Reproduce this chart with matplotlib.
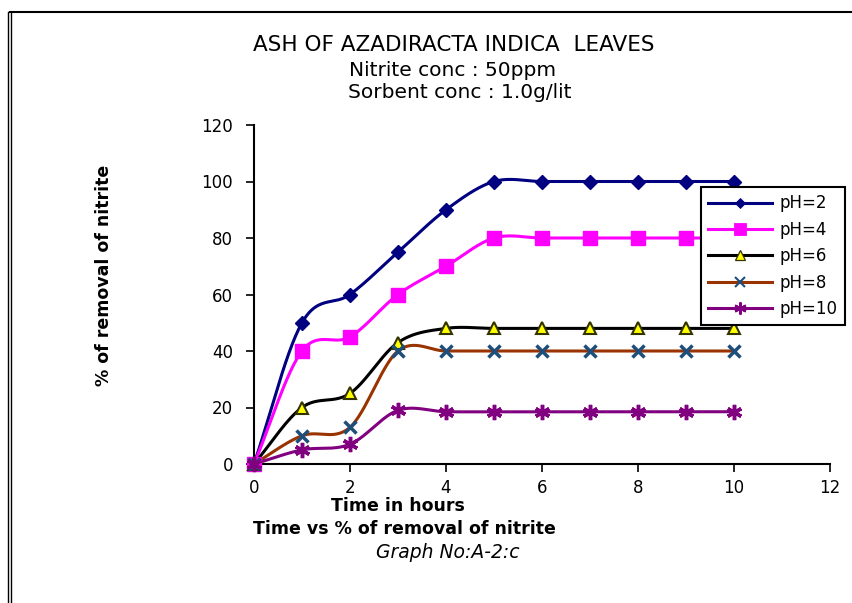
import matplotlib.pyplot as plt
import numpy as np
from matplotlib.lines import Line2D

plt.rcParams["font.family"] = ["DejaVu Sans"]

hours = [0, 1, 2, 3, 4, 5, 6, 7, 8, 9, 10]
ph2 = [0, 50, 60, 75, 90, 100, 100, 100, 100, 100, 100]
ph4 = [0, 40, 45, 60, 70, 80, 80, 80, 80, 80, 80]
ph6 = [0, 20, 25, 43, 48, 48, 48, 48, 48, 48, 48]
ph8 = [0, 10, 13, 40, 40, 40, 40, 40, 40, 40, 40]
ph10 = [0, 5, 7, 19, 18.5, 18.5, 18.5, 18.5, 18.5, 18.5, 18.5]
series_labels = ["pH=2", "pH=4", "pH=6", "pH=8", "pH=10"]


def smooth(x, y, n=30):
    # Catmull-Rom curve through the points, like Excel's smoothed line
    x = np.asarray(x, float)
    y = np.asarray(y, float)
    px = np.concatenate([[2 * x[0] - x[1]], x, [2 * x[-1] - x[-2]]])
    py = np.concatenate([[2 * y[0] - y[1]], y, [2 * y[-1] - y[-2]]])
    xs, ys = [], []
    t = np.linspace(0, 1, n)
    for i in range(1, len(px) - 2):
        for p, out in ((px, xs), (py, ys)):
            p0, p1, p2, p3 = p[i - 1], p[i], p[i + 1], p[i + 2]
            out.extend(0.5 * ((2 * p1) + (-p0 + p2) * t
                              + (2 * p0 - 5 * p1 + 4 * p2 - p3) * t ** 2
                              + (-p0 + 3 * p1 - 3 * p2 + p3) * t ** 3))
    return np.array(xs), np.array(ys)


styles = [
    dict(color="#000080", marker="D", ms=7, mfc="#000080", mec="#000080", mew=1),
    dict(color="#FF00FF", marker="s", ms=10, mfc="#FF00FF", mec="#FF00FF", mew=1),
    dict(color="#000000", marker="^", ms=9, mfc="#FFFF00", mec="#333300", mew=1.5),
    dict(color="#993300", marker="x", ms=9, mfc="#1F4E79", mec="#1F4E79", mew=2.5),
    dict(color="#800080", marker=(6, 2, 0), ms=11, mfc="#800080", mec="#800080", mew=2.5),
]

fig = plt.figure(figsize=(8.53, 6.03), dpi=100)
ax = fig.add_axes([254 / 853, 1 - 464 / 603, 576 / 853, 339 / 603])

for vals, st, lab in zip([ph2, ph4, ph6, ph8, ph10], styles, series_labels):
    sx, sy = smooth(hours, vals)
    ax.plot(sx, sy, color=st["color"], lw=2.2, zorder=2)
    ax.plot(hours, vals, ls="none", marker=st["marker"], ms=st["ms"],
            mfc=st["mfc"], mec=st["mec"], mew=st["mew"], zorder=3, clip_on=False)

ax.set_xlim(0, 12)
ax.set_ylim(0, 120)
ax.set_xticks(range(0, 13, 2))
ax.set_yticks(range(0, 121, 20))
for side in ("top", "right"):
    ax.spines[side].set_visible(False)
for side in ("left", "bottom"):
    ax.spines[side].set_linewidth(1.5)
ax.tick_params(direction="out", length=6, width=1.2, labelsize=12)
ax.tick_params(axis="y", pad=9)
ax.tick_params(axis="x", pad=5)

ax.set_xlabel("Time in hours", fontsize=12.5, fontweight="bold")
ax.xaxis.set_label_coords((398 - 254) / 576, (464 - 497) / 339)
ax.set_ylabel("% of removal of nitrite", fontsize=12.5, fontweight="bold")
ax.yaxis.set_label_coords((113 - 254) / 576, (464 - 275) / 339)

fig.text(454 / 853, 1 - 45 / 603, "ASH OF AZADIRACTA INDICA  LEAVES", ha="center", va="center", fontsize=15.5)
fig.text(453 / 853, 1 - 70 / 603, "Nitrite conc : 50ppm", ha="center", va="center", fontsize=14.5)
fig.text(460 / 853, 1 - 93 / 603, "Sorbent conc : 1.0g/lit", ha="center", va="center", fontsize=14.5)
fig.text(404 / 853, 1 - 529 / 603, "Time vs % of removal of nitrite", ha="center", va="center",
         fontsize=12.5, fontweight="bold")
fig.text(448 / 853, 1 - 552 / 603, "Graph No:A-2:c", ha="center", va="center",
         fontsize=13.5, style="italic")

handles = [Line2D([0], [0], color=st["color"], lw=2.2, marker=st["marker"], ms=st["ms"] * 0.8,
                  mfc=st["mfc"], mec=st["mec"], mew=st["mew"] * 0.6) for st in styles]
leg = ax.legend(handles, series_labels, loc="upper left",
                bbox_to_anchor=((701 - 254) / 576, (464 - 187) / 339),
                fontsize=12, frameon=True, fancybox=False, edgecolor="black", framealpha=1,
                handlelength=3.8, labelspacing=0.5, borderpad=0.45, borderaxespad=0,
                handletextpad=0.45)
leg.get_frame().set_linewidth(1.5)

# page-like frame: top rule and double left rule
fig.add_artist(Line2D([10 / 853, 1], [1 - 12 / 603, 1 - 12 / 603], color="black", lw=1.5,
                      transform=fig.transFigure))
fig.add_artist(Line2D([8 / 853, 8 / 853], [0, 1 - 12 / 603], color="black", lw=1,
                      transform=fig.transFigure))
fig.add_artist(Line2D([11 / 853, 11 / 853], [0, 1 - 12 / 603], color="black", lw=1,
                      transform=fig.transFigure))

fig.savefig("out.png", dpi=100)
